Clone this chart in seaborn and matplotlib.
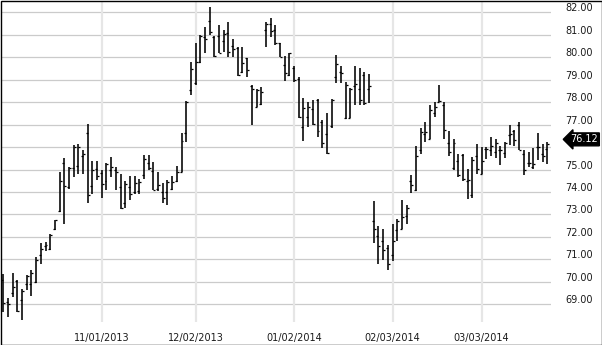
import numpy as np
import pandas as pd
import matplotlib
matplotlib.use("Agg")
import matplotlib.pyplot as plt
import matplotlib.transforms as mtransforms
from matplotlib.patches import Rectangle
import seaborn as sns

# ---------------- data ----------------
open_ = [70.10, 69.11, 69.52, 70.05, 69.20, 69.90, 69.90, 70.00, 71.20, 71.58,
         71.44, 72.37, 73.14, 75.29, 74.20, 75.05, 75.15, 75.60, 76.63, 74.26,
         75.04, 74.85, 74.48, 74.97, 75.00, 74.23, 73.53, 74.20, 74.00, 74.05,
         74.74, 75.28, 74.95, 74.15, 74.00, 74.00, 74.15, 74.50, 74.90, 76.64,
         78.54, 78.85, 79.80, 80.90, 81.60, 80.90, 80.95, 80.70, 81.06, 80.50,
         80.40, 79.34, 79.95, 78.70, 77.80, 77.90, 81.20, 81.50, 81.21, 80.62,
         79.65, 79.20, 79.50, 79.03, 76.90, 77.35, 77.70, 78.10, 77.10, 76.60,
         76.94, 79.13, 79.35, 77.30, 77.30, 78.70, 78.60, 79.20, 78.60, 72.69,
         72.03, 71.80, 71.50, 71.20, 72.30, 72.37, 72.93, 74.50, 74.07, 75.85,
         76.60, 76.37, 77.50, 78.00, 77.89, 76.18, 75.05, 75.40, 75.63, 74.50,
         73.85, 75.59, 74.82, 75.90, 75.88, 75.80, 75.85, 75.74, 76.53, 76.72,
         76.97, 75.70, 75.30, 75.09, 76.00, 75.70, 75.90]
high = [70.37, 69.26, 70.41, 70.07, 69.70, 70.32, 70.52, 71.11, 71.73, 71.78,
        72.15, 72.77, 74.89, 75.52, 75.12, 76.09, 76.15, 75.85, 77.04, 75.38,
        75.38, 74.97, 75.29, 75.56, 75.12, 74.78, 74.47, 74.70, 74.70, 74.60,
        75.63, 75.65, 75.35, 74.90, 74.42, 74.52, 74.70, 75.15, 76.63, 78.05,
        79.80, 80.65, 80.99, 81.36, 82.22, 80.94, 81.43, 81.21, 81.58, 80.80,
        80.44, 80.44, 79.95, 78.76, 78.59, 78.68, 81.58, 81.73, 81.43, 80.65,
        80.05, 80.20, 79.61, 79.10, 78.17, 78.02, 78.10, 78.12, 77.20, 77.50,
        78.12, 80.10, 79.61, 78.91, 78.61, 79.61, 79.54, 79.34, 79.27, 73.58,
        72.50, 72.37, 71.63, 72.56, 72.78, 73.63, 73.41, 74.74, 76.03, 76.85,
        77.12, 77.86, 78.00, 78.78, 78.00, 76.72, 76.37, 75.71, 75.71, 75.04,
        75.56, 76.15, 76.00, 76.00, 76.45, 76.37, 76.03, 76.22, 76.97, 76.78,
        77.12, 75.89, 75.78, 75.98, 76.63, 76.12, 76.23]
low = [68.66, 68.44, 69.33, 68.66, 68.32, 69.63, 69.37, 69.95, 70.81, 71.38,
       71.41, 72.30, 73.11, 72.59, 74.15, 74.68, 74.82, 74.82, 73.51, 73.93,
       74.52, 73.71, 74.08, 74.67, 74.08, 73.23, 73.29, 73.65, 73.90, 73.92,
       74.60, 74.98, 74.07, 74.05, 73.49, 73.42, 74.10, 74.46, 74.88, 76.24,
       78.32, 78.76, 79.76, 80.17, 80.99, 79.99, 80.17, 80.24, 80.02, 80.02,
       79.16, 79.31, 79.13, 77.00, 77.77, 77.87, 80.44, 80.89, 80.54, 79.99,
       78.94, 79.16, 78.91, 77.28, 76.29, 76.88, 77.00, 76.46, 75.94, 75.69,
       76.83, 78.84, 78.84, 77.24, 77.28, 77.87, 77.87, 77.86, 77.98, 71.73,
       70.78, 70.99, 70.54, 70.93, 71.82, 72.34, 72.56, 73.96, 74.04, 75.68,
       76.23, 76.34, 77.34, 78.00, 76.37, 75.59, 75.00, 74.67, 74.49, 73.70,
       73.75, 74.82, 74.79, 75.48, 75.59, 75.53, 75.19, 75.50, 76.08, 76.04,
       75.86, 74.74, 75.09, 75.04, 75.41, 75.34, 75.26]
close = [69.06, 69.03, 69.75, 68.70, 69.60, 70.28, 70.40, 70.95, 71.48, 71.65,
         72.07, 72.74, 74.49, 74.26, 75.08, 76.02, 76.00, 75.70, 73.85, 75.00,
         74.70, 74.34, 75.26, 75.09, 74.90, 73.30, 74.37, 73.90, 74.40, 74.45,
         75.49, 75.05, 74.10, 74.30, 73.75, 74.45, 74.45, 74.90, 76.27, 78.02,
         79.46, 79.77, 80.94, 80.80, 81.14, 80.05, 80.20, 81.03, 80.25, 80.35,
         79.20, 79.73, 79.43, 78.57, 78.55, 78.45, 81.50, 81.18, 80.62, 80.02,
         79.28, 80.17, 79.00, 77.32, 77.72, 77.80, 77.03, 76.70, 76.19, 75.72,
         78.10, 79.70, 79.28, 78.78, 78.57, 78.80, 78.10, 77.98, 78.70, 72.37,
         71.58, 71.43, 70.80, 71.80, 72.73, 72.89, 73.30, 74.30, 75.59, 76.67,
         76.67, 77.63, 77.80, 78.05, 76.77, 75.78, 76.18, 74.75, 74.60, 74.55,
         75.44, 75.04, 75.40, 75.90, 76.05, 76.20, 75.88, 76.20, 76.60, 76.33,
         75.89, 74.97, 75.30, 75.26, 76.00, 75.60, 76.12]

holidays = ["2013-11-28", "2013-12-25", "2014-01-01", "2014-01-20", "2014-02-17"]
dates = pd.bdate_range("2013-10-03", "2014-03-21", freq="C", holidays=holidays)
tick_dates = ["2013-11-01", "2013-12-02", "2014-01-02", "2014-02-03", "2014-03-03"]
tick_labels = ["11/01/2013", "12/02/2013", "01/02/2014", "02/03/2014", "03/03/2014"]
y_ticks = [69, 70, 71, 72, 73, 74, 75, 76, 77, 78, 79, 80, 81, 82]
last_label = "76.12"

df = pd.DataFrame({"date": dates[:len(close)], "open": open_, "high": high,
                   "low": low, "close": close})
df["x"] = np.arange(len(df))

# ---------------- style ----------------
sns.set_theme(style="white")
plt.rcParams["font.family"] = ["DejaVu Sans"]

fig = plt.figure(figsize=(6.02, 3.45), dpi=100)
W, H = 602, 345
ax = fig.add_axes([1 / W, 1 - 322 / H, 550 / W, 321 / H])
ax.set_facecolor("white")
for s in ax.spines.values():
    s.set_visible(False)

# grid
for v in y_ticks:
    ax.axhline(v, color="#cbcbcb", lw=0.9, zorder=0)
tick_pos = [int(dates.get_loc(pd.Timestamp(d))) for d in tick_dates]
for p in tick_pos:
    ax.axvline(p, color="#e6e6e6", lw=1.6, zorder=0)

# OHLC bars
tw = 0.42
ax.vlines(df["x"], df["low"], df["high"], color="black", lw=1.15, zorder=3)
ax.hlines(df["open"], df["x"] - tw, df["x"], color="black", lw=0.9, zorder=3)
ax.hlines(df["close"], df["x"], df["x"] + tw, color="black", lw=0.9, zorder=3)

ax.set_xlim(-0.49, 116.79)
ax.set_ylim(68.211, 82.503)

# x ticks
ax.set_xticks(tick_pos)
ax.set_xticklabels(tick_labels, fontsize=7, color="#1a1a1a")
ax.tick_params(axis="x", length=0, pad=8)

# y ticks on right, shifted up
ax.yaxis.tick_right()
ax.set_yticks(y_ticks)
ax.set_yticklabels([("" if v == 76 else f"{v:.2f}") for v in y_ticks],
                   fontsize=7, color="#1a1a1a")
ax.tick_params(axis="y", length=0, pad=10)
off = mtransforms.ScaledTranslation(0, 5 / 100, fig.dpi_scale_trans)
for lab in ax.get_yticklabels():
    lab.set_transform(lab.get_transform() + off)

# last price marker
ax.text(1.0, close[-1], last_label,
        transform=ax.get_yaxis_transform() + mtransforms.ScaledTranslation(33 / 100, 5 / 100, fig.dpi_scale_trans),
        ha="center", va="center", fontsize=7, color="white", clip_on=False,
        bbox=dict(boxstyle="larrow,pad=0.15", fc="black", ec="black"))

# figure border
fig.patches.append(Rectangle((0.5 / W, 0.5 / H), 1 - 1 / W, 1 - 1 / H,
                             transform=fig.transFigure, fill=False,
                             ec="black", lw=1.0))

fig.savefig("out.png", dpi=100)
